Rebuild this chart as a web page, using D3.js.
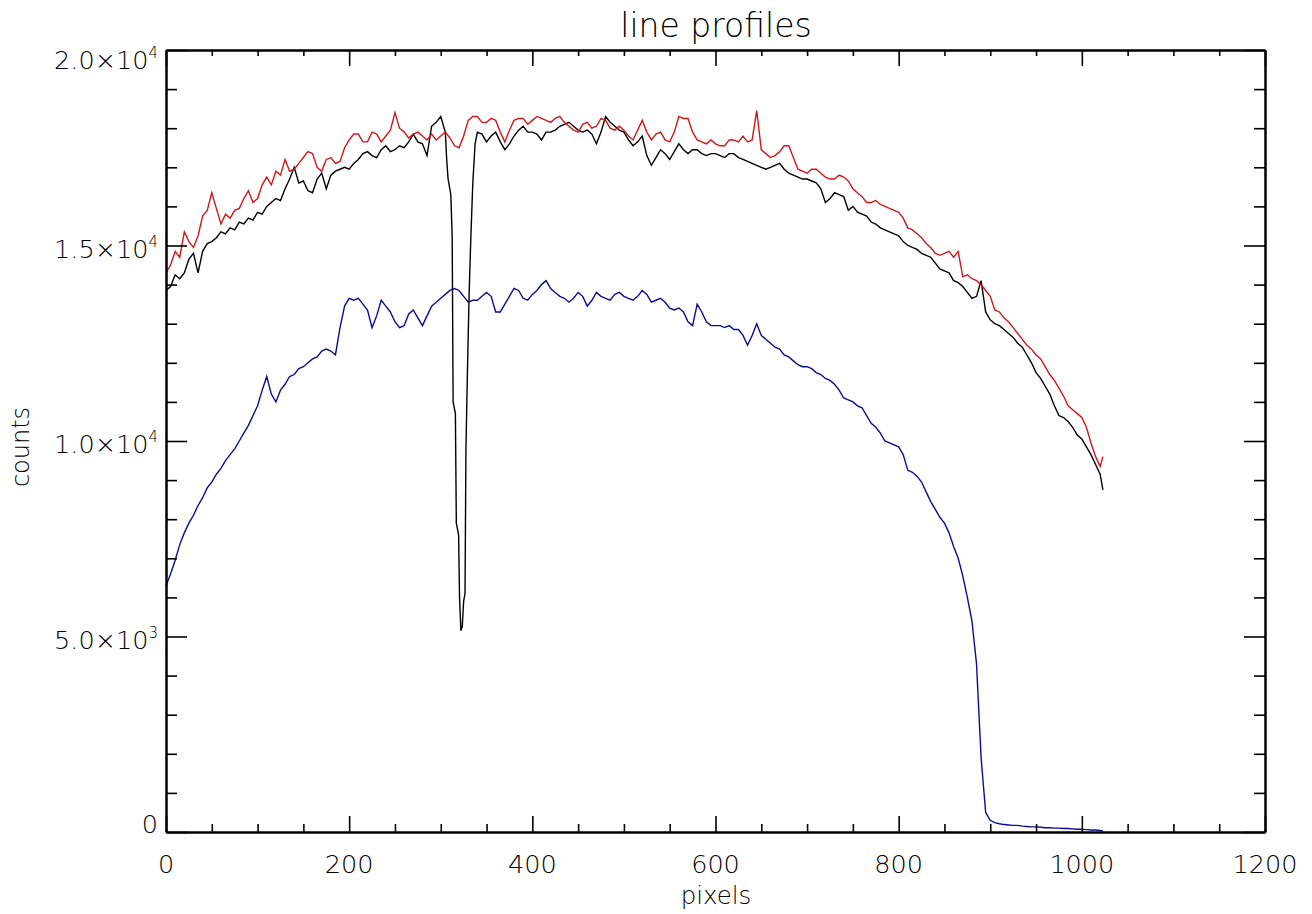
<!DOCTYPE html>
<html>
<head>
<meta charset="utf-8">
<script src="https://cdn.jsdelivr.net/npm/d3@7"></script>
<style>
  body { margin: 0; background: #fff; }
  text { font-family: "DejaVu Sans", sans-serif; font-weight: 200; fill: #000; }
</style>
</head>
<body>
<svg id="chart" width="1312" height="914"></svg>
<script>
// pixel index along the profile, sampled every 5 px
const pixelIdx = d3.range(0, 1021, 5).concat([1023]);

// red profile
const redCounts = [
  14300, 14500, 14850, 14700, 15350, 15100, 14950, 15250, 15750, 15900,
  16350, 15950, 15550, 15800, 15700, 15900, 15950, 16200, 16400, 16100,
  16200, 16550, 16750, 16550, 16900, 16800, 17200, 16900, 16950, 17100,
  17250, 17400, 17350, 17000, 16900, 17200, 17250, 17100, 17150, 17500,
  17700, 17850, 17850, 17650, 17650, 17900, 17850, 17650, 17800, 17950,
  18400, 18000, 17900, 17750, 17850, 17900, 17800, 17700, 17850, 17700,
  17800, 17900, 17750, 17550, 17500, 17800, 18200, 18300, 18300, 18150,
  18150, 18250, 18200, 17900, 17650, 17950, 18200, 18250, 18250, 18100,
  18200, 18300, 18250, 18200, 18150, 18250, 18300, 18150, 18050, 17950,
  17900, 18100, 18150, 18000, 18050, 18250, 18200, 18000, 17950, 18050,
  17950, 17800, 17700, 17950, 18200, 17900, 17700, 17850, 17900, 17700,
  17650, 17900, 18300, 18250, 18250, 17900, 17700, 17650, 17600, 17700,
  17600, 17550, 17550, 17700, 17700, 17650, 17800, 17650, 17700, 18450,
  17450, 17350, 17250, 17300, 17400, 17550, 17550, 17250, 16950, 16900,
  16850, 16950, 16950, 16850, 16750, 16700, 16700, 16800, 16750, 16650,
  16450, 16350, 16250, 16100, 16100, 16150, 16050, 16000, 15950, 15900,
  15850, 15700, 15450, 15400, 15300, 15200, 15050, 14950, 14800, 14750,
  14800, 14850, 14700, 14850, 14200, 14250, 14150, 14100, 14000, 13850,
  13700, 13350, 13300, 13150, 13050, 12900, 12750, 12600, 12450, 12350,
  12200, 12100, 11900, 11700, 11550, 11350, 11150, 10900, 10800, 10700,
  10600, 10350, 9950, 9600, 9350, 9600
];

// black profile (null where the dip detail below takes over)
const blackCounts = [
  13850, 13950, 14250, 14150, 14300, 14650, 14800, 14300, 14850, 15050,
  15100, 15200, 15350, 15300, 15450, 15400, 15600, 15550, 15700, 15650,
  15850, 15800, 16000, 16100, 16200, 16150, 16450, 16700, 17000, 16600,
  16650, 16400, 16350, 16700, 16850, 16450, 16800, 16900, 16950, 17000,
  16950, 17100, 17200, 17350, 17400, 17300, 17250, 17450, 17550, 17400,
  17450, 17550, 17500, 17650, 17850, 17650, 17600, 17300, 18050, 18150,
  18300, null, null, null, null, null, null, null, 17900, 17850,
  17650, 17800, 17900, 17650, 17450, 17600, 17800, 17950, 18050, 17900,
  17900, 17850, 17700, 17900, 17900, 17950, 18050, 18100, 18150, 18050,
  17950, 17900, 17950, 17850, 17600, 17900, 18300, 18150, 18050, 17950,
  17900, 17700, 17550, 17650, 17800, 17300, 17050, 17250, 17450, 17350,
  17200, 17400, 17600, 17450, 17350, 17450, 17450, 17350, 17300, 17350,
  17350, 17300, 17250, 17350, 17350, 17250, 17200, 17150, 17100, 17050,
  17000, 16950, 17000, 17050, 17100, 16950, 16850, 16800, 16750, 16700,
  16700, 16650, 16600, 16450, 16100, 16200, 16350, 16300, 16250, 15900,
  16000, 15850, 15800, 15750, 15600, 15550, 15450, 15400, 15350, 15300,
  15250, 15100, 15000, 14950, 14900, 14800, 14750, 14700, 14550, 14400,
  14350, 14300, 14100, 14050, 13950, 13800, 13650, 13700, 14100, 13300,
  13100, 13000, 12950, 12850, 12750, 12650, 12500, 12400, 12200, 12000,
  11750, 11600, 11400, 11200, 10900, 10650, 10600, 10500, 10350, 10150,
  10050, 9850, 9650, 9400, 9150, 8750
];

// the narrow dip in the black profile
const blackDipPixel = [305, 306.5, 308, 311, 312.5, 313.5, 316, 317, 319.5, 320.5,
  322, 323.5, 325, 326.5, 327.5, 329, 331, 333, 335, 337.5];
const blackDipCounts = [17900, 17200, 16700, 16300, 15200, 11000, 10700, 7900, 7600, 6000,
  5150, 5250, 5900, 6100, 9800, 11600, 13800, 15300, 16600, 17600];

// blue profile
const blueCounts = [
  6300, 6600, 6950, 7350, 7650, 7900, 8100, 8350, 8550, 8800,
  8950, 9150, 9300, 9500, 9650, 9800, 10000, 10200, 10400, 10650,
  10900, 11300, 11650, 11200, 11000, 11300, 11450, 11650, 11700, 11850,
  11900, 12000, 12100, 12150, 12300, 12350, 12300, 12200, 12900, 13450,
  13650, 13600, 13650, 13500, 13350, 12900, 13200, 13600, 13450, 13300,
  13050, 12900, 12950, 13250, 13350, 13150, 12950, 13200, 13450, 13550,
  13650, 13750, 13850, 13900, 13850, 13700, 13550, 13600, 13600, 13700,
  13800, 13700, 13300, 13300, 13500, 13700, 13900, 13850, 13650, 13600,
  13750, 13850, 14000, 14100, 13900, 13800, 13700, 13650, 13550, 13650,
  13800, 13700, 13450, 13600, 13800, 13700, 13650, 13600, 13750, 13800,
  13700, 13650, 13600, 13700, 13850, 13750, 13550, 13600, 13650, 13550,
  13400, 13350, 13400, 13300, 13050, 12950, 13500, 13300, 13050, 12950,
  12950, 12950, 12900, 12950, 12850, 12850, 12700, 12450, 12700, 13000,
  12700, 12600, 12500, 12400, 12350, 12200, 12150, 12050, 11950, 11900,
  11900, 11850, 11750, 11700, 11600, 11550, 11450, 11300, 11100, 11050,
  11000, 10900, 10850, 10650, 10450, 10350, 10200, 10000, 9950, 9900,
  9850, 9650, 9250, 9200, 9100, 8950, 8700, 8450, 8250, 8050,
  7900, 7650, 7300, 7000, 6550, 6000, 5400, 4300, 1900, 500,
  300, 240, 210, 190, 180, 170, 170, 150, 140, 130,
  130, 120, 110, 110, 100, 100, 90, 90, 80, 70,
  70, 60, 50, 50, 40, 30
];

const xMajorTicks = [0, 200, 400, 600, 800, 1000, 1200];
const xTickLabels = ["0", "200", "400", "600", "800", "1000", "1200"];
const yMajorTicks = [0, 5000, 10000, 15000, 20000];
const yTickMantissa = ["0", "5.0\u00d710", "1.0\u00d710", "1.5\u00d710", "2.0\u00d710"];
const yTickExponent = ["", "3", "4", "4", "4"];

const LEFT = 166, RIGHT = 1265, TOP = 50, BOTTOM = 832;

const svg = d3.select("#chart");
svg.append("rect").attr("width", 1312).attr("height", 914).attr("fill", "#fff");

const x = d3.scaleLinear().domain([0, 1200]).range([LEFT, RIGHT]);
const y = d3.scaleLinear().domain([0, 20000]).range([BOTTOM, TOP]);

const xMinorTicks = d3.range(0, 1201, 50).filter(v => v % 200 !== 0);
const yMinorTicks = d3.range(0, 20001, 1000).filter(v => v % 5000 !== 0);

function toPoints(values) {
  return pixelIdx.map((p, i) => ({ px: p, v: values[i] })).filter(d => d.v !== null);
}

const blackPoints = toPoints(blackCounts)
  .concat(blackDipPixel.map((p, i) => ({ px: p, v: blackDipCounts[i] })))
  .sort((a, b) => a.px - b.px);

const line = d3.line()
  .x(d => x(d.px))
  .y(d => y(d.v));

// profiles
svg.append("path").datum(blackPoints)
  .attr("fill", "none").attr("stroke", "#000").attr("stroke-width", 1.4)
  .attr("d", line);
svg.append("path").datum(toPoints(redCounts))
  .attr("fill", "none").attr("stroke", "#d01818").attr("stroke-width", 1.4)
  .attr("d", line);
svg.append("path").datum(toPoints(blueCounts))
  .attr("fill", "none").attr("stroke", "#0c0c92").attr("stroke-width", 1.4)
  .attr("d", line);

// axes: each side gets a major and a minor set, ticks pointing inward
function addAxis(axis, tx, ty) {
  svg.append("g")
    .attr("transform", `translate(${tx},${ty})`)
    .call(axis)
    .call(g => g.selectAll("text").remove())
    .call(g => g.select(".domain").attr("stroke-width", 2))
    .call(g => g.selectAll(".tick line").attr("stroke-width", 1.6));
}

addAxis(d3.axisTop(x).tickValues(xMajorTicks).tickSize(16).tickSizeOuter(0), 0, BOTTOM);
addAxis(d3.axisTop(x).tickValues(xMinorTicks).tickSize(8).tickSizeOuter(0), 0, BOTTOM);
addAxis(d3.axisBottom(x).tickValues(xMajorTicks).tickSize(16).tickSizeOuter(0), 0, TOP);
addAxis(d3.axisBottom(x).tickValues(xMinorTicks).tickSize(6).tickSizeOuter(0), 0, TOP);
addAxis(d3.axisRight(y).tickValues(yMajorTicks).tickSize(21).tickSizeOuter(0), LEFT, 0);
addAxis(d3.axisRight(y).tickValues(yMinorTicks).tickSize(11).tickSizeOuter(0), LEFT, 0);
addAxis(d3.axisLeft(y).tickValues(yMajorTicks).tickSize(21).tickSizeOuter(0), RIGHT, 0);
addAxis(d3.axisLeft(y).tickValues(yMinorTicks).tickSize(11).tickSizeOuter(0), RIGHT, 0);

// x tick labels
svg.selectAll("text.xlabel")
  .data(xMajorTicks)
  .join("text")
  .attr("class", "xlabel")
  .attr("x", d => x(d))
  .attr("y", 873)
  .attr("text-anchor", "middle")
  .attr("font-size", 25.5)
  .text((d, i) => xTickLabels[i]);

// y tick labels, IDL style mantissa x 10^exp
const ylabels = svg.selectAll("text.ylabel")
  .data(yMajorTicks)
  .join("text")
  .attr("class", "ylabel")
  .attr("x", 158)
  .attr("y", d => y(d) + (d === 0 ? 1 : d === 20000 ? 19 : 12))
  .attr("text-anchor", "end")
  .attr("font-size", 25.5);

ylabels.append("tspan").text((d, i) => yTickMantissa[i]);
ylabels.append("tspan")
  .attr("font-size", 15)
  .attr("dy", -11)
  .text((d, i) => yTickExponent[i]);

// titles
svg.append("text")
  .attr("x", 716).attr("y", 37)
  .attr("text-anchor", "middle")
  .attr("font-size", 33)
  .text("line profiles");

svg.append("text")
  .attr("x", 716).attr("y", 904)
  .attr("text-anchor", "middle")
  .attr("font-size", 24.5)
  .text("pixels");

svg.append("text")
  .attr("transform", "translate(28.5,447) rotate(-90)")
  .attr("text-anchor", "middle")
  .attr("font-size", 24)
  .text("counts");
</script>
</body>
</html>
